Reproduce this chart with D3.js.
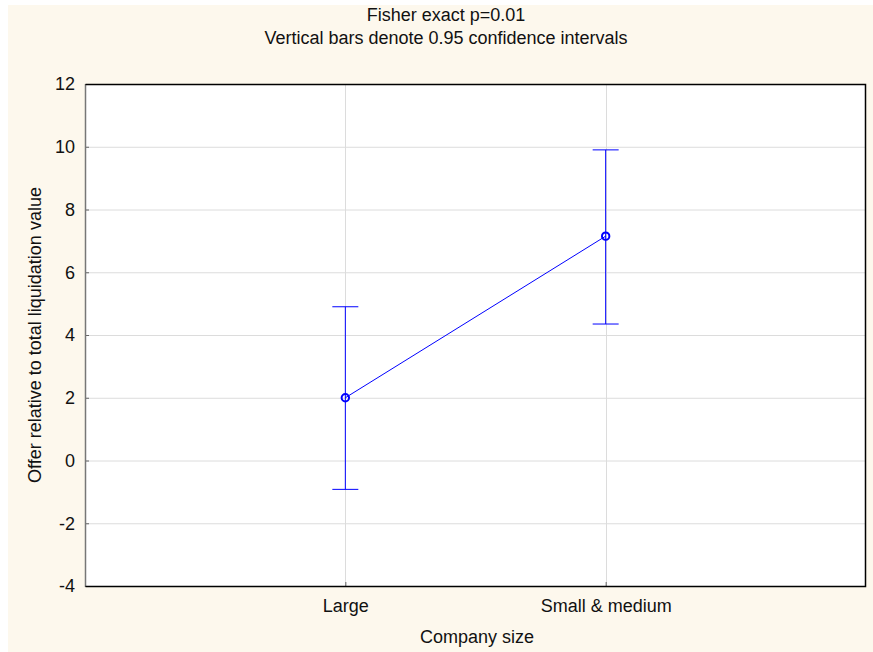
<!DOCTYPE html>
<html>
<head>
<meta charset="utf-8">
<script src="https://cdn.jsdelivr.net/npm/d3@7"></script>
<style>
  body { margin: 0; background: #fff; }
  text { font-family: "Liberation Sans", Arial, sans-serif; fill: #111; }
</style>
</head>
<body>
<div id="content"></div>
<script>
'use strict';
//////////////////// input data
const categories = ['Large', 'Small & medium'];
const means = [2.0, 7.15];
const lower = [-0.92, 4.35];
const upper = [4.9, 9.9];
const yTicks = [-4, -2, 0, 2, 4, 6, 8, 10, 12];

const data = categories.map((c, i) => ({ name: c, mean: means[i], lo: lower[i], hi: upper[i] }));

//////////////////// drawing area
const W = 873, H = 652;
const margin = { left: 85, right: 7, top: 84, bottom: 66 };
const iW = W - margin.left - margin.right;
const iH = H - margin.top - margin.bottom;
const FS = 18;

const xScale = d3.scalePoint()
    .domain(categories)
    .range([0, iW])
    .padding(1);

const yScale = d3.scaleLinear()
    .domain([-4, 12])
    .range([iH, 0]);

const svg = d3.select("#content")
    .append("svg")
        .attr("width", W)
        .attr("height", H);

svg.append("rect")
    .attr("x", 8).attr("y", 5)
    .attr("width", W - 8).attr("height", H - 5)
    .attr("fill", "#fdf8ed");

// titles
svg.append("text")
    .attr("x", 446).attr("y", 21)
    .attr("text-anchor", "middle").attr("font-size", FS)
    .text("Fisher exact p=0.01");
svg.append("text")
    .attr("x", 446).attr("y", 44)
    .attr("text-anchor", "middle").attr("font-size", FS)
    .text("Vertical bars denote 0.95 confidence intervals");

const diagram = svg.append("g")
    .attr("transform", "translate(" + margin.left + "," + margin.top + ")");

diagram.append("rect")
    .attr("width", iW).attr("height", iH)
    .attr("fill", "#fff");

// grid
diagram.selectAll(".hgrid")
    .data(yTicks)
    .enter().append("line")
    .attr("x1", 0).attr("x2", iW)
    .attr("y1", d => yScale(d) + 0.5).attr("y2", d => yScale(d) + 0.5)
    .attr("stroke", "#dcdcdc");

diagram.selectAll(".vgrid")
    .data(categories)
    .enter().append("line")
    .attr("x1", d => Math.round(xScale(d)) + 0.5).attr("x2", d => Math.round(xScale(d)) + 0.5)
    .attr("y1", 0).attr("y2", iH)
    .attr("stroke", "#dcdcdc");

// axes
const yAxis = diagram.append("g")
    .call(d3.axisLeft(yScale).tickValues(yTicks).tickFormat(d => String(d)).tickSize(-4).tickPadding(10));
yAxis.select(".domain").remove();
yAxis.selectAll(".tick line").attr("stroke", "#666");
yAxis.selectAll(".tick text").attr("font-size", FS).attr("font-family", "Liberation Sans, Arial, sans-serif").attr("fill", "#111");

const xAxis = diagram.append("g")
    .attr("transform", "translate(0," + iH + ")")
    .call(d3.axisBottom(xScale).tickSize(-4).tickPadding(13));
xAxis.select(".domain").remove();
xAxis.selectAll(".tick line").attr("stroke", "#666");
xAxis.selectAll(".tick text").attr("font-size", FS).attr("font-family", "Liberation Sans, Arial, sans-serif").attr("fill", "#111");

// frame
diagram.append("line").attr("x1", 0.5).attr("x2", 0.5).attr("y1", 0).attr("y2", iH + 1)
    .attr("stroke", "#777").attr("stroke-width", 1.5);
diagram.append("path")
    .attr("d", "M0.5,0.5H" + (iW - 0.5) + "V" + (iH + 0.5) + "H0.5")
    .attr("fill", "none").attr("stroke", "#000").attr("stroke-width", 1.5);

// error bars
const cap = 13;
const bars = diagram.selectAll(".err")
    .data(data)
    .enter().append("g")
    .attr("stroke", "#0000ff").attr("fill", "none");
bars.append("line")
    .attr("x1", d => xScale(d.name)).attr("x2", d => xScale(d.name))
    .attr("y1", d => yScale(d.lo)).attr("y2", d => yScale(d.hi));
bars.append("line")
    .attr("x1", d => xScale(d.name) - cap).attr("x2", d => xScale(d.name) + cap)
    .attr("y1", d => yScale(d.hi)).attr("y2", d => yScale(d.hi));
bars.append("line")
    .attr("x1", d => xScale(d.name) - cap).attr("x2", d => xScale(d.name) + cap)
    .attr("y1", d => yScale(d.lo)).attr("y2", d => yScale(d.lo));

// mean line and markers
const line = d3.line()
    .x(d => xScale(d.name))
    .y(d => yScale(d.mean));
diagram.append("path")
    .datum(data)
    .attr("d", line)
    .attr("fill", "none").attr("stroke", "#0000ff");

diagram.selectAll(".pt")
    .data(data)
    .enter().append("circle")
    .attr("cx", d => xScale(d.name)).attr("cy", d => yScale(d.mean))
    .attr("r", 3.7)
    .attr("fill", "none").attr("stroke", "#0000ff").attr("stroke-width", 2);

// axis titles
svg.append("text")
    .attr("x", 477).attr("y", 643)
    .attr("text-anchor", "middle").attr("font-size", FS)
    .text("Company size");
svg.append("text")
    .attr("transform", "translate(41," + (margin.top + iH / 2) + ") rotate(-90)")
    .attr("text-anchor", "middle").attr("font-size", FS)
    .text("Offer relative to total liquidation value");
</script>
</body>
</html>
